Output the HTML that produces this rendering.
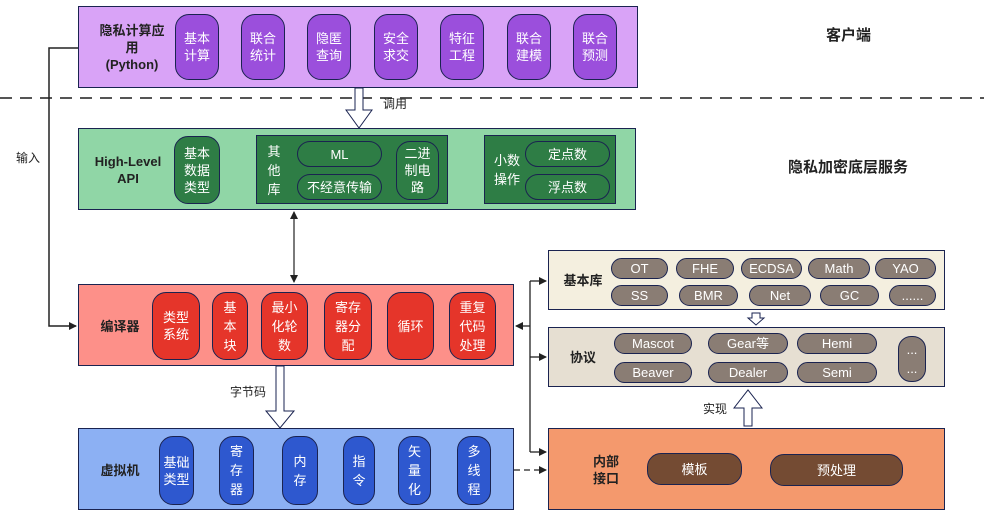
<!DOCTYPE html>
<html><head><meta charset="utf-8"><style>
body{margin:0;width:984px;height:513px;position:relative;background:#fff;overflow:hidden;font-family:"Liberation Sans","Noto Sans CJK SC",sans-serif;}
div{position:absolute;box-sizing:border-box;}
.c{display:flex;align-items:center;justify-content:center;text-align:center;}
.box{border:1.3px solid #1a2350;}
.p{border:1.3px solid #1a2350;border-radius:14px;color:#fff;font-size:13px;line-height:17px;display:flex;align-items:center;justify-content:center;text-align:center;}
.lb{font-weight:bold;font-size:13px;color:#222;line-height:17px;display:flex;align-items:center;justify-content:center;text-align:center;}
.pu{background:#9b4fdc;} .gr{background:#2e7d45;} .rd{background:#e5352a;} .bl{background:#2e58cf;} .gy{background:#8a7d74;border-radius:11px;} .br{background:#744b33;}
</style></head><body>
<svg width="984" height="513" style="position:absolute;left:0;top:0">
<defs><marker id="a" markerWidth="8" markerHeight="8" refX="7" refY="4" orient="auto-start-reverse" markerUnits="userSpaceOnUse"><path d="M0,0 L8,4 L0,8z" fill="#222"/></marker></defs>
<line x1="0" y1="98" x2="984" y2="98" stroke="#555" stroke-width="2" stroke-dasharray="12,8"/>
<polyline points="78,48 49,48 49,326 76,326" fill="none" stroke="#222" stroke-width="1.5" marker-end="url(#a)"/>
<line x1="294" y1="212" x2="294" y2="282" stroke="#222" stroke-width="1.2" marker-end="url(#a)" marker-start="url(#a)"/>
<line x1="530" y1="281" x2="530" y2="452" stroke="#222" stroke-width="1.3"/>
<line x1="530" y1="281" x2="546" y2="281" stroke="#222" stroke-width="1.3" marker-end="url(#a)"/>
<line x1="530" y1="357" x2="546" y2="357" stroke="#222" stroke-width="1.3" marker-end="url(#a)"/>
<line x1="530" y1="452" x2="546" y2="452" stroke="#222" stroke-width="1.3" marker-end="url(#a)"/>
<line x1="530" y1="326" x2="516" y2="326" stroke="#222" stroke-width="1.3" marker-end="url(#a)"/>
<line x1="514" y1="470" x2="546" y2="470" stroke="#222" stroke-width="1.3" stroke-dasharray="6,4" marker-end="url(#a)"/>
<path d="M355,88 L363,88 L363,110 L372,110 L359,128 L346,110 L355,110z" fill="#fff" stroke="#1a2350" stroke-width="1"/>
<path d="M276,366 L284,366 L284,411 L294,411 L280,428 L266,411 L276,411z" fill="#fff" stroke="#1a2350" stroke-width="1"/>
<path d="M752,313 L760,313 L760,318 L764,318 L756,325 L748,318 L752,318z" fill="#fff" stroke="#1a2350" stroke-width="1"/>
<path d="M744,426 L752,426 L752,408 L762,408 L748,390 L734,408 L744,408z" fill="#fff" stroke="#1a2350" stroke-width="1"/>
</svg>
<div style="left:383px;top:95px;font-size:12px;color:#222">调用</div>
<div style="left:16px;top:149px;font-size:12px;color:#222">输入</div>
<div style="left:230px;top:383px;font-size:12px;color:#222">字节码</div>
<div style="left:703px;top:400px;font-size:12px;color:#222">实现</div>
<div style="left:826px;top:24px;font-size:15px;font-weight:bold;color:#222">客户端</div>
<div style="left:788px;top:156px;font-size:15px;font-weight:bold;color:#222">隐私加密底层服务</div>

<div class="box" style="left:78px;top:6px;width:560px;height:82px;background:#d9a3f7"></div>
<div class="lb" style="left:92px;top:14px;width:80px;height:66px">隐私计算应<br>用<br>(Python)</div>
<div class="p pu" style="left:175px;top:14px;width:44px;height:66px">基本<br>计算</div>
<div class="p pu" style="left:241px;top:14px;width:44px;height:66px">联合<br>统计</div>
<div class="p pu" style="left:307px;top:14px;width:44px;height:66px">隐匿<br>查询</div>
<div class="p pu" style="left:374px;top:14px;width:44px;height:66px">安全<br>求交</div>
<div class="p pu" style="left:440px;top:14px;width:44px;height:66px">特征<br>工程</div>
<div class="p pu" style="left:507px;top:14px;width:44px;height:66px">联合<br>建模</div>
<div class="p pu" style="left:573px;top:14px;width:44px;height:66px">联合<br>预测</div>

<div class="box" style="left:78px;top:128px;width:558px;height:82px;background:#90d6a6"></div>
<div class="lb" style="left:88px;top:150px;width:80px;height:40px">High-Level<br>API</div>
<div class="p gr" style="left:174px;top:136px;width:46px;height:68px">基本<br>数据<br>类型</div>
<div class="box gr" style="left:256px;top:135px;width:192px;height:69px"></div>
<div class="c" style="left:264px;top:140px;width:20px;height:60px;color:#fff;font-size:13px;line-height:19px">其<br>他<br>库</div>
<div class="p gr" style="left:297px;top:141px;width:85px;height:26px">ML</div>
<div class="p gr" style="left:297px;top:174px;width:85px;height:26px">不经意传输</div>
<div class="p gr" style="left:396px;top:141px;width:43px;height:59px">二进<br>制电<br>路</div>
<div class="box gr" style="left:484px;top:135px;width:132px;height:69px"></div>
<div class="c" style="left:490px;top:150px;width:34px;height:40px;color:#fff;font-size:13px;line-height:19px">小数<br>操作</div>
<div class="p gr" style="left:525px;top:141px;width:85px;height:26px">定点数</div>
<div class="p gr" style="left:525px;top:174px;width:85px;height:26px">浮点数</div>

<div class="box" style="left:78px;top:284px;width:436px;height:82px;background:#fd9089"></div>
<div class="lb" style="left:95px;top:316px;width:50px;height:20px">编译器</div>
<div class="p rd" style="left:152px;top:292px;width:48px;height:68px">类型<br>系统</div>
<div class="p rd" style="left:212px;top:292px;width:36px;height:68px;line-height:19px">基<br>本<br>块</div>
<div class="p rd" style="left:261px;top:292px;width:47px;height:68px;line-height:19px">最小<br>化轮<br>数</div>
<div class="p rd" style="left:324px;top:292px;width:48px;height:68px;line-height:19px">寄存<br>器分<br>配</div>
<div class="p rd" style="left:387px;top:292px;width:47px;height:68px">循环</div>
<div class="p rd" style="left:449px;top:292px;width:47px;height:68px;line-height:19px">重复<br>代码<br>处理</div>

<div class="box" style="left:78px;top:428px;width:436px;height:82px;background:#8cb0f3"></div>
<div class="lb" style="left:95px;top:460px;width:50px;height:20px">虚拟机</div>
<div class="p bl" style="left:159px;top:436px;width:35px;height:69px">基础<br>类型</div>
<div class="p bl" style="left:219px;top:436px;width:35px;height:69px;line-height:19px">寄<br>存<br>器</div>
<div class="p bl" style="left:282px;top:436px;width:36px;height:69px;line-height:19px">内<br>存</div>
<div class="p bl" style="left:343px;top:436px;width:32px;height:69px;line-height:19px">指<br>令</div>
<div class="p bl" style="left:398px;top:436px;width:33px;height:69px;line-height:19px">矢<br>量<br>化</div>
<div class="p bl" style="left:457px;top:436px;width:34px;height:69px;line-height:19px">多<br>线<br>程</div>

<div class="box" style="left:548px;top:250px;width:397px;height:60px;background:#f4efdf"></div>
<div class="lb" style="left:558px;top:270px;width:50px;height:20px">基本库</div>
<div class="p gy" style="left:611px;top:258px;width:57px;height:21px">OT</div>
<div class="p gy" style="left:676px;top:258px;width:58px;height:21px">FHE</div>
<div class="p gy" style="left:741px;top:258px;width:61px;height:21px">ECDSA</div>
<div class="p gy" style="left:808px;top:258px;width:62px;height:21px">Math</div>
<div class="p gy" style="left:875px;top:258px;width:61px;height:21px">YAO</div>
<div class="p gy" style="left:611px;top:285px;width:57px;height:21px">SS</div>
<div class="p gy" style="left:679px;top:285px;width:59px;height:21px">BMR</div>
<div class="p gy" style="left:749px;top:285px;width:62px;height:21px">Net</div>
<div class="p gy" style="left:820px;top:285px;width:59px;height:21px">GC</div>
<div class="p gy" style="left:889px;top:285px;width:47px;height:21px">......</div>

<div class="box" style="left:548px;top:327px;width:397px;height:60px;background:#e6dfd2"></div>
<div class="lb" style="left:565px;top:347px;width:36px;height:20px">协议</div>
<div class="p gy" style="left:614px;top:333px;width:78px;height:21px">Mascot</div>
<div class="p gy" style="left:614px;top:362px;width:78px;height:21px">Beaver</div>
<div class="p gy" style="left:708px;top:333px;width:80px;height:21px">Gear等</div>
<div class="p gy" style="left:708px;top:362px;width:80px;height:21px">Dealer</div>
<div class="p gy" style="left:797px;top:333px;width:80px;height:21px">Hemi</div>
<div class="p gy" style="left:797px;top:362px;width:80px;height:21px">Semi</div>
<div class="p gy" style="left:898px;top:336px;width:28px;height:46px;border-radius:13px;line-height:19px">...<br>...</div>

<div class="box" style="left:548px;top:428px;width:397px;height:82px;background:#f4996d"></div>
<div class="lb" style="left:586px;top:450px;width:40px;height:40px">内部<br>接口</div>
<div class="p br" style="left:647px;top:453px;width:95px;height:32px">模板</div>
<div class="p br" style="left:770px;top:454px;width:133px;height:32px">预处理</div>
</body></html>
